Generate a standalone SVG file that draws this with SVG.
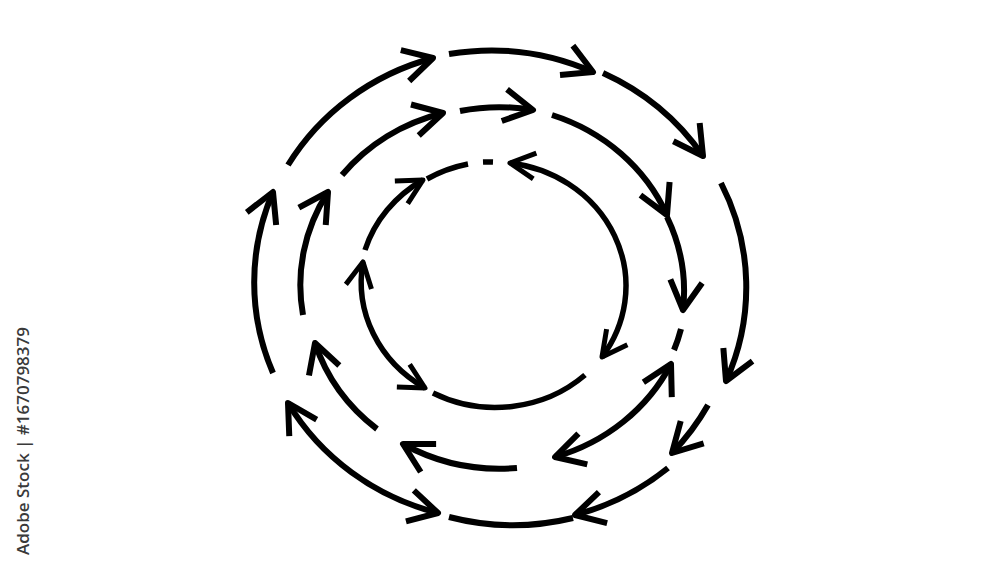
<svg xmlns="http://www.w3.org/2000/svg" width="1000" height="571" viewBox="0 0 1000 571">
  <style>
    .arc { fill: none; stroke: #000; stroke-width: 6; stroke-linecap: butt; }
    .arc-in { fill: none; stroke: #000; stroke-width: 5.5; stroke-linecap: butt; }
    .big { marker-end: url(#ah); }
    .bigboth { marker-start: url(#ahs); marker-end: url(#ah); }
    .small { marker-end: url(#as); }
    .smallboth { marker-start: url(#ass); marker-end: url(#as); }
    .credit { font-family: "Open Sans", "Noto Sans", "Liberation Sans", sans-serif; font-size: 16px; font-weight: 600; fill: #3a3a3a; }
  </style>
  <defs>
    <marker id="ah" markerUnits="userSpaceOnUse" viewBox="-40 -25 50 50" markerWidth="50" markerHeight="50" refX="0" refY="0" orient="auto" overflow="visible">
      <path d="M -29 -16 L 0 0 L -29 16" fill="none" stroke="#000" stroke-width="6" stroke-linejoin="round"/>
    </marker>
    <marker id="ahs" markerUnits="userSpaceOnUse" viewBox="-40 -25 50 50" markerWidth="50" markerHeight="50" refX="0" refY="0" orient="auto-start-reverse" overflow="visible">
      <path d="M -29 -16 L 0 0 L -29 16" fill="none" stroke="#000" stroke-width="6" stroke-linejoin="round"/>
    </marker>
    <marker id="as" markerUnits="userSpaceOnUse" viewBox="-40 -25 50 50" markerWidth="50" markerHeight="50" refX="0" refY="0" orient="auto" overflow="visible">
      <path d="M -25 -13 L 0 0 L -25 13" fill="none" stroke="#000" stroke-width="5" stroke-linejoin="round"/>
    </marker>
    <marker id="ass" markerUnits="userSpaceOnUse" viewBox="-40 -25 50 50" markerWidth="50" markerHeight="50" refX="0" refY="0" orient="auto-start-reverse" overflow="visible">
      <path d="M -25 -13 L 0 0 L -25 13" fill="none" stroke="#000" stroke-width="5" stroke-linejoin="round"/>
    </marker>
  </defs>
  <rect width="1000" height="571" fill="#fff"/>

  <g id="outer-ring">
    <path class="arc big" d="M288 165 A246 236 0 0 1 433 58"/>
    <path class="arc big" d="M449 54 A246 236 0 0 1 593 72"/>
    <path class="arc big" d="M603 73 A246 236 0 0 1 703 156"/>
    <path class="arc big" d="M721 183 A246 236 0 0 1 726 381"/>
    <path class="arc big" d="M708 405 A246 236 0 0 1 672 453"/>
    <path class="arc big" d="M668 468 A246 236 0 0 1 575 515"/>
    <path class="arc" d="M573 518 A246 236 0 0 1 449 517"/>
    <path class="arc bigboth" d="M438 513 A246 236 0 0 1 288 403"/>
    <path class="arc big" d="M273 373 A246 236 0 0 1 273 192"/>
  </g>

  <g id="middle-ring">
    <path class="arc big" d="M342 175 A192 180 0 0 1 443 113"/>
    <path class="arc big" d="M460 111 A192 180 0 0 1 533 110"/>
    <path class="arc big" d="M552 115 A192 180 0 0 1 667 215"/>
    <path class="arc big" d="M667 217 A192 180 0 0 1 683 310"/>
    <path class="arc" d="M681 329 A192 180 0 0 1 674 350"/>
    <path class="arc bigboth" d="M671 364 A192 180 0 0 1 555 457"/>
    <path class="arc big" d="M517 468 A192 180 0 0 1 403 444"/>
    <path class="arc big" d="M377 429 A192 180 0 0 1 315 343"/>
    <path class="arc big" d="M303 315 A192 180 0 0 1 328 192"/>
  </g>

  <g id="inner-ring">
    <path class="arc-in small" d="M365 250 A133 124 0 0 1 423 180"/>
    <path class="arc-in" d="M427 179 A133 124 0 0 1 468 164"/>
    <path class="arc-in" d="M483 162 A133 124 0 0 1 493 162"/>
    <path class="arc-in smallboth" d="M510 163 A133 124 0 0 1 602 357"/>
    <path class="arc-in" d="M585 375 A133 124 0 0 1 433 393"/>
    <path class="arc-in smallboth" d="M425 388 A133 124 0 0 1 363 262"/>
  </g>

  <text class="credit" transform="translate(29,555) rotate(-90)" x="0" y="0" textLength="228" lengthAdjust="spacingAndGlyphs">Adobe Stock | #1670798379</text>
</svg>
